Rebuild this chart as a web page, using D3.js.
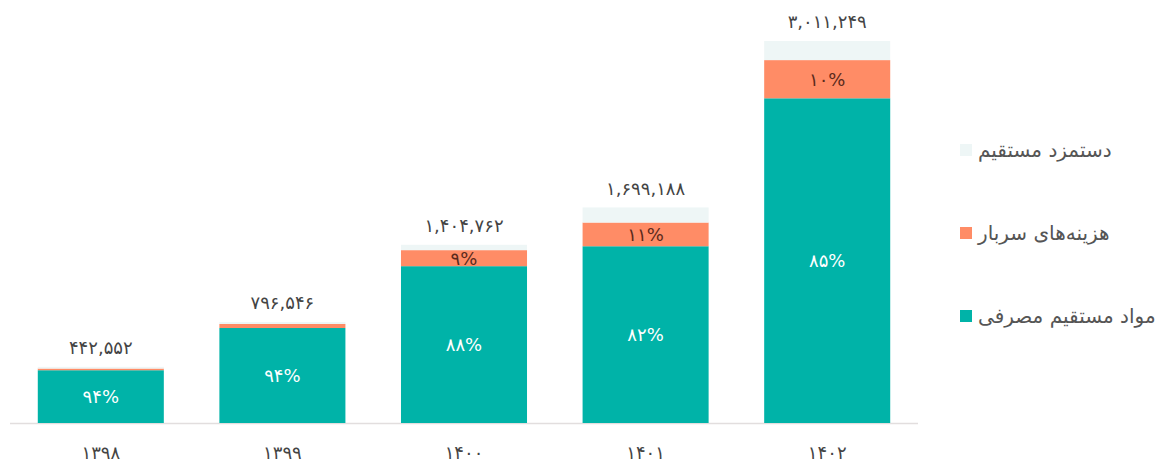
<!DOCTYPE html>
<html lang="fa">
<head>
<meta charset="utf-8">
<script src="https://cdn.jsdelivr.net/npm/d3@7"></script>
<style>
  html, body { margin: 0; padding: 0; background: #ffffff; }
  svg { display: block; font-family: "DejaVu Sans", "Noto Sans", sans-serif; }
</style>
</head>
<body>
<svg id="chart" width="1161" height="464"></svg>
<script>
// Years (Solar Hijri) on the category axis
const years = ["۱۳۹۸", "۱۳۹۹", "۱۴۰۰", "۱۴۰۱", "۱۴۰۲"];
// Total cost per year
const totals = [442552, 796546, 1404762, 1699188, 3011249];
// Share of each cost component in the yearly total (percent)
const materialsPct = [94, 94, 88, 82, 85];
const overheadPct = [3, 4, 9, 11, 10];
const laborPct = [3, 2, 3, 7, 5];
// Series names, bottom to top in the stack
const seriesNames = ["مواد مستقیم مصرفی", "هزینه‌های سربار", "دستمزد مستقیم"];
const seriesColors = ["#00b3a8", "#ff8c66", "#eef6f6"];

const toFa = s => String(s).replace(/\d/g, d => "۰۱۲۳۴۵۶۷۸۹"[+d]);
const fmtTotal = v => toFa(d3.format(",")(v));
const fmtPct = v => toFa(v) + "%";

const rows = years.map((y, i) => ({
  year: y,
  total: totals[i],
  m: totals[i] * materialsPct[i] / 100,
  o: totals[i] * overheadPct[i] / 100,
  l: totals[i] * laborPct[i] / 100,
  pct: [materialsPct[i], overheadPct[i], laborPct[i]]
}));
const keys = ["m", "o", "l"];
const stacked = d3.stack().keys(keys)(rows);

const svg = d3.select("#chart");
const baseY = 423;

const x = d3.scaleBand().domain(years).range([10, 918]).paddingInner(0.306).paddingOuter(0.153);
const y = d3.scaleLinear().domain([0, d3.max(totals)]).range([baseY, 41]);

// Baseline
svg.append("line")
  .attr("x1", 10).attr("x2", 918)
  .attr("y1", baseY + 0.5).attr("y2", baseY + 0.5)
  .attr("stroke", "#e2dede").attr("stroke-width", 1.5);

// Stacked bars
const layers = svg.append("g").selectAll("g").data(stacked).join("g")
  .attr("fill", (d, i) => seriesColors[i]);
layers.selectAll("rect").data(d => d).join("rect")
  .attr("x", d => x(d.data.year))
  .attr("width", x.bandwidth())
  .attr("y", d => y(d[1]))
  .attr("height", d => y(d[0]) - y(d[1]));

// Percent labels inside the materials and overhead segments
stacked.forEach((layer, si) => {
  if (si > 1) return;
  layer.forEach(d => {
    const h = y(d[0]) - y(d[1]);
    if (h < 12) return;
    svg.append("text")
      .attr("x", x(d.data.year) + x.bandwidth() / 2)
      .attr("y", (y(d[0]) + y(d[1])) / 2)
      .attr("dy", "0.36em")
      .attr("text-anchor", "middle")
      .attr("font-size", 18)
      .attr("fill", si === 0 ? "#ffffff" : "#5b2a1c")
      .text(fmtPct(d.data.pct[si]));
  });
});

// Total labels above bars
svg.append("g").selectAll("text").data(rows).join("text")
  .attr("x", d => x(d.year) + x.bandwidth() / 2)
  .attr("y", d => y(d.total) - 19)
  .attr("dy", "0.36em")
  .attr("text-anchor", "middle")
  .attr("font-size", 18)
  .attr("fill", "#444444")
  .text(d => fmtTotal(d.total));

// Category axis
const xAxis = svg.append("g")
  .attr("transform", `translate(0,${baseY + 23})`)
  .call(d3.axisBottom(x).tickSize(0).tickPadding(0));
xAxis.select(".domain").remove();
xAxis.selectAll("text")
  .attr("font-size", 18)
  .attr("font-family", "DejaVu Sans, sans-serif")
  .attr("fill", "#444444");

// Legend, top entry is the top of the stack
const legendRows = [2, 1, 0];
const legend = svg.append("g").selectAll("g").data(legendRows).join("g")
  .attr("transform", (d, i) => `translate(960,${150 + i * 83})`);
legend.append("rect")
  .attr("x", 0).attr("y", -6).attr("width", 12).attr("height", 12)
  .attr("fill", d => seriesColors[d]);
legend.append("text")
  .attr("x", 18).attr("y", 0).attr("dy", "0.36em")
  .attr("font-size", 20)
  .attr("fill", "#555555")
  .text(d => seriesNames[d]);
</script>
</body>
</html>
